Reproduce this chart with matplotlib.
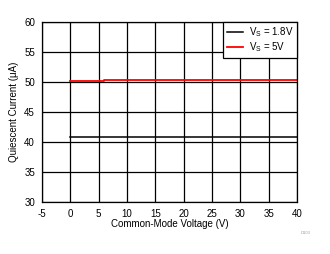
import matplotlib.pyplot as plt

# data
vcm_18 = [0, 40]
iq_18 = [40.8, 40.8]
vcm_5 = [0, 6, 6, 40]
iq_5 = [50.17, 50.17, 50.35, 50.35]

xticks = [-5, 0, 5, 10, 15, 20, 25, 30, 35, 40]
yticks = [30, 35, 40, 45, 50, 55, 60]

plt.rcParams['font.family'] = ['Liberation Sans', 'DejaVu Sans']
plt.rcParams['axes.unicode_minus'] = False

fig = plt.figure(figsize=(3.3, 2.54), dpi=100)
ax = fig.add_axes([42 / 330, 52 / 254, 255 / 330, 180 / 254])

ax.plot(vcm_18, iq_18, color='black', lw=1.1, label='V$_\\mathregular{S}$ = 1.8V')
ax.plot(vcm_5, iq_5, color='#ff0000', lw=1.3, label='V$_\\mathregular{S}$ = 5V')

ax.set_xlim(-5, 40)
ax.set_ylim(30, 60)
ax.set_xticks(xticks)
ax.set_yticks(yticks)
ax.grid(True, color='black', lw=0.9)
ax.set_axisbelow(True)
ax.tick_params(length=0, labelsize=7, pad=5)
for s in ax.spines.values():
    s.set_linewidth(0.9)

ax.set_xlabel('Common-Mode Voltage (V)', fontsize=7, labelpad=0)
ax.set_ylabel('Quiescent Current (\u03bcA)', fontsize=7, labelpad=4)

leg = ax.legend(loc='upper right', fontsize=7, frameon=True, fancybox=False,
                borderaxespad=0, handlelength=1.7, handletextpad=0.6,
                borderpad=0.35, labelspacing=0.15)
leg.get_frame().set_edgecolor('black')
leg.get_frame().set_linewidth(0.9)
leg.get_frame().set_alpha(1)

fig.text(0.925, 0.08, 'D103', fontsize=3, color='#9aa0b0', ha='center')

fig.savefig('out.png', dpi=100)
